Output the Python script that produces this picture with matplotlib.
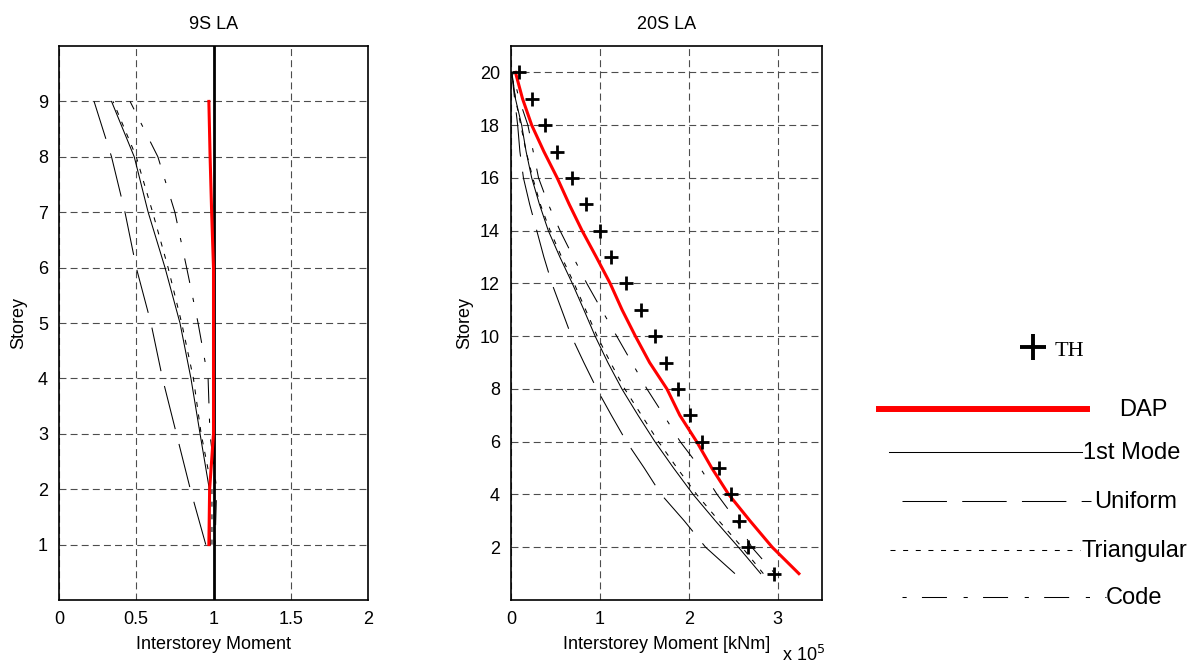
import numpy as np
import matplotlib.pyplot as plt
from matplotlib.lines import Line2D
from matplotlib.ticker import FuncFormatter

plt.rcParams['font.family'] = ['Liberation Sans', 'DejaVu Sans']
plt.rcParams['font.size'] = 13
plt.rcParams['lines.scale_dashes'] = False

# ---- 9 storey frame, moments normalised by time-history result ----
storeys_9 = np.arange(1, 10)
th_norm_9 = 1.0
dap_9 = [0.97, 0.975, 1.0, 1.0, 1.0, 1.0, 0.988, 0.978, 0.97]
mode1_9 = [0.98, 0.973, 0.913, 0.854, 0.783, 0.686, 0.577, 0.487, 0.34]
uniform_9 = [0.95, 0.85, 0.76, 0.67, 0.595, 0.50, 0.427, 0.34, 0.227]
triang_9 = [0.99, 0.99, 0.92, 0.87, 0.794, 0.706, 0.606, 0.50, 0.35]
code_9 = [1.01, 1.02, 0.977, 0.965, 0.90, 0.826, 0.75, 0.64, 0.46]

# ---- 20 storey frame, interstorey moment [x 1e5 kNm] ----
storeys_20 = np.arange(1, 21)
th_20 = [2.957, 2.672, 2.57, 2.477, 2.34, 2.153, 2.01, 1.875, 1.74, 1.625,
         1.458, 1.293, 1.124, 1.003, 0.842, 0.684, 0.522, 0.387, 0.233, 0.094]
dap_20 = [3.24, 2.94, 2.69, 2.45, 2.26, 2.09, 1.90, 1.755, 1.56, 1.40,
          1.25, 1.116, 0.96, 0.80, 0.655, 0.52, 0.37, 0.233, 0.13, 0.05]
mode1_20 = [2.81, 2.56, 2.30, 2.05, 1.83, 1.62, 1.43, 1.248, 1.09, 0.947,
            0.82, 0.69, 0.55, 0.42, 0.32, 0.233, 0.17, 0.12, 0.05, 0.01]
uniform_20 = [2.52, 2.19, 1.95, 1.69, 1.50, 1.30, 1.13, 0.966, 0.82, 0.68,
              0.57, 0.46, 0.37, 0.29, 0.21, 0.14, 0.10, 0.075, 0.04, 0.01]
triang_20 = [2.84, 2.60, 2.34, 2.09, 1.87, 1.66, 1.47, 1.28, 1.12, 0.97,
             0.84, 0.71, 0.57, 0.44, 0.33, 0.245, 0.17, 0.11, 0.05, 0.01]
code_20 = [2.97, 2.71, 2.54, 2.32, 2.13, 1.905, 1.72, 1.53, 1.36, 1.19,
           1.02, 0.853, 0.70, 0.552, 0.42, 0.31, 0.25, 0.19, 0.09, 0.02]
scale_20 = 1e5

# line styles (dash patterns in points)
STY_MODE1 = dict(color='k', lw=0.75, linestyle='-')
STY_UNIF = dict(color='k', lw=0.75, linestyle=(0, (32, 11)))
STY_TRI = dict(color='k', lw=0.75, linestyle=(0, (3.6, 5.5)))
STY_CODE = dict(color='k', lw=0.75, linestyle=(0, (3, 11, 18, 12)))
GRID_STY = dict(color='0.3', lw=0.8, linestyle=(0, (5, 3)))

W, H = 1188, 664
fig = plt.figure(figsize=(W / 100, H / 100), dpi=100)
ax1 = fig.add_axes([59 / W, 1 - 600 / H, 309 / W, 554 / H])
ax2 = fig.add_axes([511 / W, 1 - 600 / H, 311 / W, 554 / H])

for ax in (ax1, ax2):
    ax.grid(True, **GRID_STY)
    ax.set_axisbelow(True)
    for s in ax.spines.values():
        s.set_linewidth(1.2)
    ax.tick_params(direction='in', length=0, pad=8, labelsize=13)

# left panel
ax1.plot(mode1_9, storeys_9, **STY_MODE1)
ax1.plot(uniform_9, storeys_9, **STY_UNIF)
ax1.plot(triang_9, storeys_9, **STY_TRI)
ax1.plot(code_9, storeys_9, **STY_CODE)
ax1.axvline(th_norm_9, color='k', lw=2.0)
ax1.plot(dap_9, storeys_9, color='red', lw=2.2)
ax1.set_xlim(0, 2)
ax1.set_ylim(0, 10)
ax1.set_xticks([0, 0.5, 1, 1.5, 2])
ax1.set_xticklabels(['0', '0.5', '1', '1.5', '2'])
ax1.set_yticks(storeys_9)
ax1.set_title('9S LA', fontsize=13, pad=12)
ax1.set_xlabel('Interstorey Moment', fontsize=13, labelpad=6)
ax1.set_ylabel('Storey', fontsize=13)
ax1.yaxis.set_label_coords(-0.104, 0.5)

# right panel
def sc(v):
    return np.asarray(v) * scale_20

ax2.plot(sc(mode1_20), storeys_20, **STY_MODE1)
ax2.plot(sc(uniform_20), storeys_20, **STY_UNIF)
ax2.plot(sc(triang_20), storeys_20, **STY_TRI)
ax2.plot(sc(code_20), storeys_20, **STY_CODE)
ax2.plot(sc(dap_20), storeys_20, color='red', lw=2.2)
ax2.plot(sc(th_20), storeys_20, linestyle='none', marker='+', color='k',
         ms=10, mew=2.0)
ax2.set_xlim(0, 3.5 * scale_20)
ax2.set_ylim(0, 21)
ax2.set_xticks(sc([0, 1, 2, 3]))
ax2.xaxis.set_major_formatter(FuncFormatter(lambda v, p: f'{v / scale_20:g}'))
ax2.set_yticks(np.arange(2, 21, 2))
ax2.set_title('20S LA', fontsize=13, pad=12)
ax2.set_xlabel('Interstorey Moment [kNm]', fontsize=13, labelpad=6)
ax2.set_ylabel('Storey', fontsize=13)
ax2.yaxis.set_label_coords(-0.122, 0.5)
fig.text(782 / W, 3 / H, r'x 10$^{5}$', fontsize=13, va='baseline', ha='left')

# legend drawn by hand on the right-hand side
def fx(px):
    return px / W

def fy(py):
    return 1 - py / H

fig.add_artist(Line2D([fx(1033)], [fy(347)], marker='+', color='k', ms=19,
                      mew=2.8, transform=fig.transFigure))
fig.text(fx(1055), fy(352), 'TH', family=['Liberation Serif', 'DejaVu Serif'],
         fontsize=16, va='center', ha='left')

legend_rows = [
    ('DAP', dict(color='red', lw=4.3, linestyle='-'), 879, 1087, 409, 1119),
    ('1st Mode', STY_MODE1, 889, 1082, 452, 1083),
    ('Uniform', STY_UNIF, 902, 1091, 501, 1094),
    ('Triangular', STY_TRI, 890, 1080, 550, 1081),
    ('Code', STY_CODE, 902, 1106, 597, 1106),
]
for label, sty, x0, x1, y, tx in legend_rows:
    fig.add_artist(Line2D([fx(x0), fx(x1)], [fy(y), fy(y)],
                          transform=fig.transFigure, **sty))
    fig.text(fx(tx), fy(y + 1), label, fontsize=17, va='center', ha='left')

fig.savefig('out.png', dpi=100)
